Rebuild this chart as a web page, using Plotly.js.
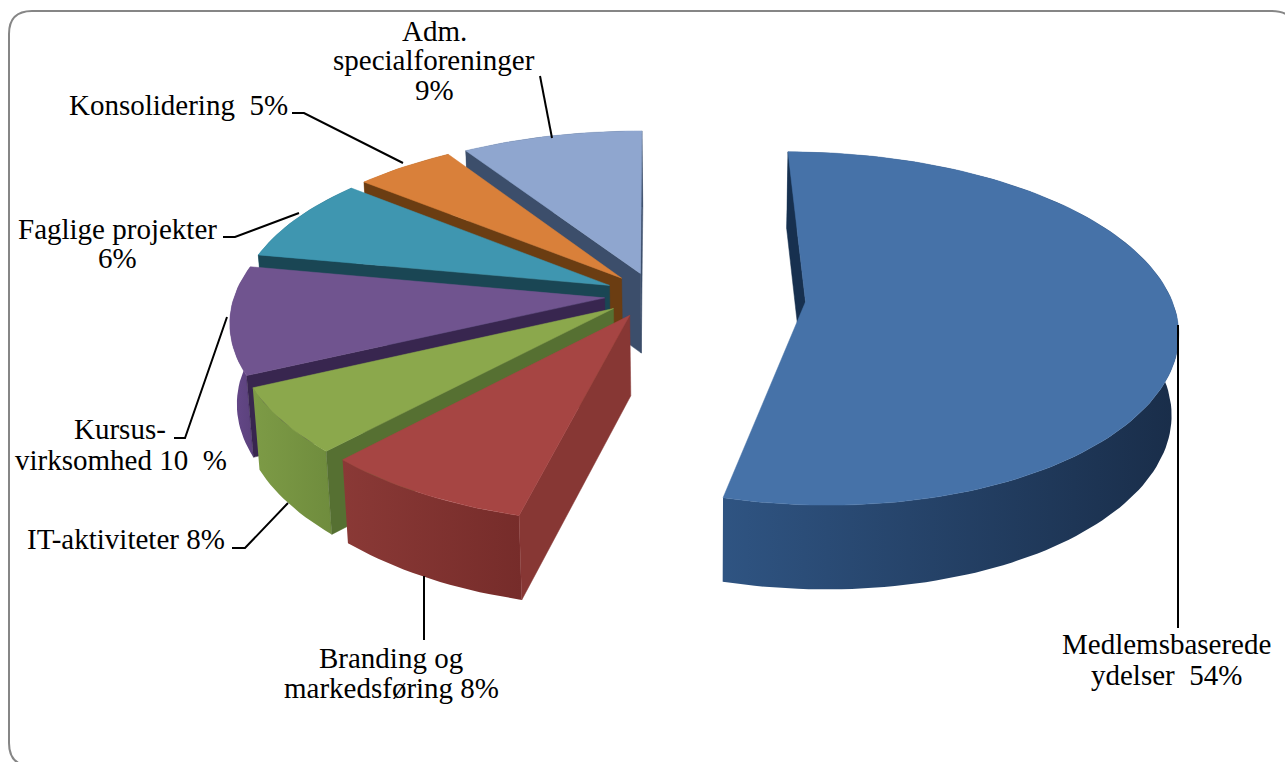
<!DOCTYPE html>
<html>
<head>
<meta charset="utf-8">
<script src="https://cdn.plot.ly/plotly-3.0.1.min.js"></script>
<style>html,body{margin:0;padding:0;background:#fff;overflow:hidden}#chart{width:1285px;height:762px}</style>
</head>
<body>
<div id="chart"></div>
<script>
// Slices clockwise from 12 o'clock, sizes
var categories = ["Medlemsbaserede ydelser","Branding og markedsføring","IT-aktiviteter","Kursusvirksomhed","Faglige projekter","Konsolidering","Adm. specialforeninger"];
var sliceValues = [54, 8, 6, 10, 8, 5, 9];
var sliceExplode = [0.41, 0.134, 0.134, 0.134, 0.134, 0.134, 0.134];
var sliceWidthScale = [0.985, 1, 1, 1, 1, 1, 1];
var sliceLiftPx = [2, 0, 0, 0, 0, 0, 0];
var topColors  = ["#4672A8","#A64543","#8BA84C","#70548F","#3F96B0","#D9803A","#8FA6CF"];
var cutColors  = ["#17304F","#873734","#567032","#38264F","#1A4654","#6B3D12","#3C4E6B"];
var rimLeft    = ["#2F5482","#8A3936","#7D9B46","#66498A","#2F7D94","#B96B2E","#3C4E6B"];
var rimRight   = ["#192D49","#762C2A","#6F8C3D","#59407A","#1A4654","#6B3D12","#3C4E6B"];
var drawOrder  = [6, 5, 4, 3, 2, 1, 0];

// Label text, one entry per line
var labelText = ["Adm.","specialforeninger","9%","Konsolidering  5%","Faglige projekter","6%","Kursus-","virksomhed 10  %","IT-aktiviteter 8%","Branding og","markedsføring 8%","Medlemsbaserede","ydelser  54%"];
var labelX = [434,434,434,289,117,117,120,121,126,391,391,1166,1166];
var labelY = [31,60,90,105,229,258,429,460,539,658,688,644,675];
var labelAnchor = ["center","center","center","right","center","center","center","center","center","center","center","center","center"];
var leaders = [
  [[540,76],[552,138]],
  [[292,113],[304,113],[403,163]],
  [[223,237],[235,237],[299,213]],
  [[174,438],[185,438],[227,317]],
  [[232,548],[245,548],[288,503]],
  [[424,576],[424,640]],
  [[1178,325],[1178,628]]
];

// Perspective model of the pie
var X0 = 654, Y0 = 295, RX = 370, RY = 170, KX = 0.13, KY = 0.15, DEPTH = 80, VX = 700, SHRINK = 0.985;
function project(u, v, down, lift) {
  var wx = 1 / (1 - KX * v), wy = 1 / (1 - KY * v);
  var px = X0 + RX * u * wx, py = Y0 + RY * v * wy - lift;
  if (down) { px = VX + (px - VX) * SHRINK; py += DEPTH * Math.pow(wy, 0.3); }
  return [px, py];
}
function poly(pts, fill, gradL, gradR) {
  var tr = { x: pts.map(function (p) { return p[0]; }), y: pts.map(function (p) { return p[1]; }),
    mode: "lines", line: { width: 0.5, color: fill }, fill: "toself", fillcolor: fill, hoverinfo: "skip", showlegend: false };
  if (gradL) {
    tr.fillgradient = { type: "horizontal", colorscale: [[0, gradL], [1, gradR]] };
    tr.line = { width: 0 };
  }
  return tr;
}
// A cut face shows only if moving its top edge downward leaves the top face
function cutVisible(tip, edge, inside) {
  var ex = edge[0] - tip[0], ey = edge[1] - tip[1];
  var sideDown = ex * 1;                                   // cross(edge, down)
  var sideIn = ex * (inside[1] - tip[1]) - ey * (inside[0] - tip[0]);
  return sideDown * sideIn < 0;
}

var total = sliceValues.reduce(function (a, b) { return a + b; }, 0);
var starts = [], acc = 0;
sliceValues.forEach(function (v) { starts.push(acc / total * 360); acc += v; });

var traces = [];
drawOrder.forEach(function (i) {
  var a0 = starts[i], a1 = a0 + sliceValues[i] / total * 360, mid = (a0 + a1) / 2 * Math.PI / 180;
  var cu = Math.sin(mid) * sliceExplode[i], cv = -Math.cos(mid) * sliceExplode[i];
  var lift = sliceLiftPx[i], su = sliceWidthScale[i];
  var arcTop = [], arcBot = [], n = Math.max(6, Math.round((a1 - a0) / 1.5));
  for (var k = 0; k <= n; k++) {
    var a = (a0 + (a1 - a0) * k / n) * Math.PI / 180;
    var u = cu + su * Math.sin(a), v = cv - Math.cos(a);
    arcTop.push(project(u, v, false, lift));
    arcBot.push(project(u, v, true, lift));
  }
  var tipT = project(cu, cv, false, lift), tipB = project(cu, cv, true, lift);
  var middle = arcTop[Math.round(n / 2)];
  traces.push(poly(arcTop.concat(arcBot.slice().reverse()).concat([arcTop[0]]), rimLeft[i], rimLeft[i], rimRight[i]));
  if (cutVisible(tipT, arcTop[0], middle)) traces.push(poly([tipT, arcTop[0], arcBot[0], tipB, tipT], cutColors[i]));
  if (cutVisible(tipT, arcTop[n], middle)) traces.push(poly([tipT, arcTop[n], arcBot[n], tipB, tipT], cutColors[i]));
  traces.push(poly([tipT].concat(arcTop).concat([tipT]), topColors[i]));
});

leaders.forEach(function (l) {
  traces.push({ x: l.map(function (p) { return p[0]; }), y: l.map(function (p) { return p[1]; }),
    mode: "lines", line: { color: "#000", width: 2 }, hoverinfo: "skip", showlegend: false });
});

var annotations = labelText.map(function (t, i) {
  return { text: t, x: labelX[i], y: labelY[i], xref: "x", yref: "y", xanchor: labelAnchor[i], yanchor: "middle",
    showarrow: false, align: labelAnchor[i], borderpad: 0, font: { family: "Liberation Serif, serif", size: 29, color: "#000" } };
});

var layout = {
  width: 1285, height: 762, margin: { l: 0, r: 0, t: 0, b: 0 }, paper_bgcolor: "#fff", plot_bgcolor: "#fff",
  xaxis: { range: [0, 1285], visible: false, fixedrange: true },
  yaxis: { range: [762, 0], visible: false, fixedrange: true },
  showlegend: false, annotations: annotations,
  shapes: [{ type: "path", xref: "x", yref: "y", layer: "below", line: { color: "#868686", width: 2 },
    path: "M 32 11 L 1272 11 Q 1295 11 1295 34 L 1295 743 Q 1295 766 1272 766 L 32 766 Q 9 766 9 743 L 9 34 Q 9 11 32 11 Z" }]
};
Plotly.newPlot("chart", traces, layout, { displayModeBar: false, staticPlot: true });
</script>
</body>
</html>
